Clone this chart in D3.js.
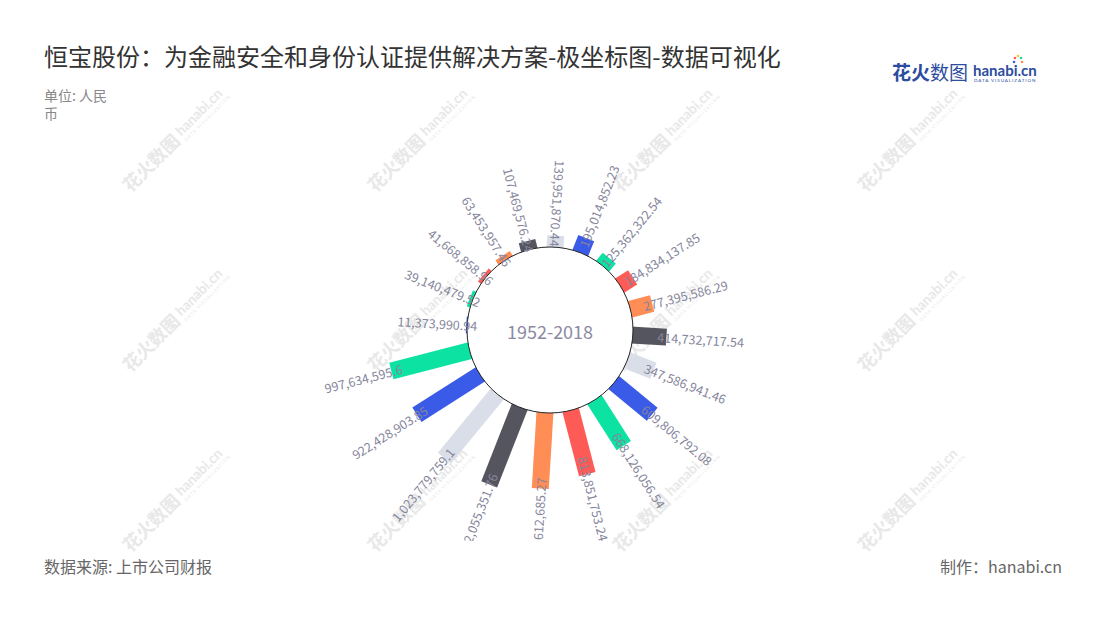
<!DOCTYPE html>
<html><head><meta charset="utf-8">
<script src="https://cdn.jsdelivr.net/npm/d3@7"></script>
<style>
body{margin:0;background:#fff;}
svg{display:block;font-family:"Noto Sans CJK SC","Noto Sans",sans-serif;}
</style></head>
<body><svg id="c" width="1100" height="620"></svg>
<script>
const title = "恒宝股份：为金融安全和身份认证提供解决方案-极坐标图-数据可视化";
const periodLabel = "1952-2018";
const categories = d3.range(1, 21).map(d => "P" + d);
const values = [11373990.94, 39140479.52, 41668858.96, 63453957.46, 107469576.24,
  139951870.44, 195014852.23, 125362322.54, 184834137.85, 277395586.29,
  414732717.54, 347586941.46, 609806792.08, 668126056.54, 813851753.24,
  935612685.27, 1022055351.76, 1023779759.1, 922428903.85, 997634595.6];
const palette = ["#3a5ae8", "#0ce2a1", "#ff5b56", "#ff8d56", "#55555f", "#d9dee8"];

const svg = d3.select("#c");
const W = 1100, H = 620, cx = 550, cy = 330, inner = 83, outer = 166;

// watermarks
const wmX = [170, 415, 660, 905], wmY = [145, 325, 505];
wmY.forEach(y => wmX.forEach(x => {
  const g = svg.append("g").attr("transform", `translate(${x},${y}) rotate(-45)`).attr("fill", "#e8e8e8");
  g.append("text").attr("x", -62).attr("y", 6).attr("font-size", 18).attr("font-weight", "bold").text("花火数图");
  g.append("text").attr("x", 14).attr("y", 2).attr("font-size", 14).attr("font-weight", "bold").attr("font-family", "Lato, sans-serif").text("hanabi.cn");
  g.append("text").attr("x", 14).attr("y", 9).attr("font-size", 4.5).attr("letter-spacing", 1).attr("font-family", "Lato, sans-serif").text("DATA VISUALIZATION");
}));

// title & notes
svg.append("text").attr("x", 44).attr("y", 66).attr("font-size", 24).attr("fill", "#333").text(title);
svg.append("text").attr("x", 44).attr("y", 101).attr("font-size", 14).attr("fill", "#888").text("单位: 人民");
svg.append("text").attr("x", 44).attr("y", 119).attr("font-size", 14).attr("fill", "#888").text("币");
svg.append("text").attr("x", 44).attr("y", 573).attr("font-size", 16).attr("fill", "#666").text("数据来源: 上市公司财报");
svg.append("text").attr("x", 1062).attr("y", 573).attr("font-size", 16).attr("fill", "#666").attr("text-anchor", "end").text("制作：hanabi.cn");

// logo
const logo = svg.append("g");
logo.append("text").attr("x", 892).attr("y", 80).attr("font-size", 19).attr("font-weight", "bold").attr("fill", "#2c4c9f").text("花火");
logo.append("text").attr("x", 930).attr("y", 80).attr("font-size", 19).attr("fill", "#2c4c9f").text("数图");
logo.append("text").attr("x", 973).attr("y", 76).attr("font-size", 15).attr("font-weight", "bold").attr("font-family", "Lato, sans-serif").attr("fill", "#2c4c9f").text("hanabi.cn");
logo.append("text").attr("x", 974).attr("y", 82).attr("font-size", 4.6).attr("letter-spacing", 0.9).attr("font-family", "Lato, sans-serif").attr("fill", "#2c4c9f").text("DATA VISUALIZATION");
[["#ff5b56",-3,-3],["#0ce2a1",3,-3],["#ffc233",0,-5],["#3a5ae8",-4,1],["#ff8d56",4,1]].forEach(([c,dx,dy]) =>
  logo.append("circle").attr("cx", 1018 + dx).attr("cy", 61 + dy).attr("r", 1.3).attr("fill", c));

// scales (first band centred slightly above 9 o'clock, running clockwise)
const offset = -5.5 * Math.PI / 180;
const angle = d3.scaleBand().domain(d3.range(values.length)).range([-Math.PI / 2 + offset, Math.PI * 1.5 + offset]);
const radius = d3.scaleLinear().domain([0, d3.max(values)]).range([inner, outer]);
const fmt = d3.format(",");
const toDeg = a => a * 180 / Math.PI;
const mid = i => angle(i) + angle.bandwidth() / 2;

const chart = svg.append("g").attr("transform", `translate(${cx},${cy})`);
const barW = 17;

chart.selectAll("g.bar").data(values).join("g")
  .attr("class", "bar")
  .attr("transform", (d, i) => `rotate(${toDeg(mid(i))})`)
  .append("rect")
  .attr("x", -barW / 2)
  .attr("y", d => -radius(d))
  .attr("width", barW)
  .attr("height", d => radius(d) - inner + 6)
  .attr("fill", (d, i) => palette[i % palette.length]);

chart.append("circle").attr("r", inner).attr("fill", "#fff").attr("stroke", "#222").attr("stroke-width", 1);
chart.append("text").attr("y", 1).attr("text-anchor", "middle").attr("dominant-baseline", "central")
  .attr("font-size", 18).attr("fill", "#8c8aa2").text(periodLabel);

// labels (clipped at bottom of plot area)
svg.append("clipPath").attr("id", "clipL").append("rect").attr("x", 0).attr("y", 0).attr("width", W).attr("height", 541);
const lab = svg.append("g").attr("clip-path", "url(#clipL)").append("g").attr("transform", `translate(${cx},${cy})`);
values.forEach((v, i) => {
  const th = mid(i);
  let c = toDeg(th) % 360; if (c < 0) c += 360;
  const flip = !(c > 12 && c < 180);
  const inset = flip ? 11 : 9 + Math.max(0, c - 120) * 0.2;
  const ra = radius(v) - inset;
  const x = Math.sin(th) * ra, y = -Math.cos(th) * ra;
  const rot = toDeg(th) - 90 + (flip ? 180 : 0);
  lab.append("text")
    .attr("transform", `translate(${x},${y}) rotate(${rot})`)
    .attr("text-anchor", flip ? "end" : "start")
    .attr("dominant-baseline", "central")
    .attr("font-size", 12.5).attr("fill", "#85859b")
    .text(fmt(v));
});
</script></body></html>
